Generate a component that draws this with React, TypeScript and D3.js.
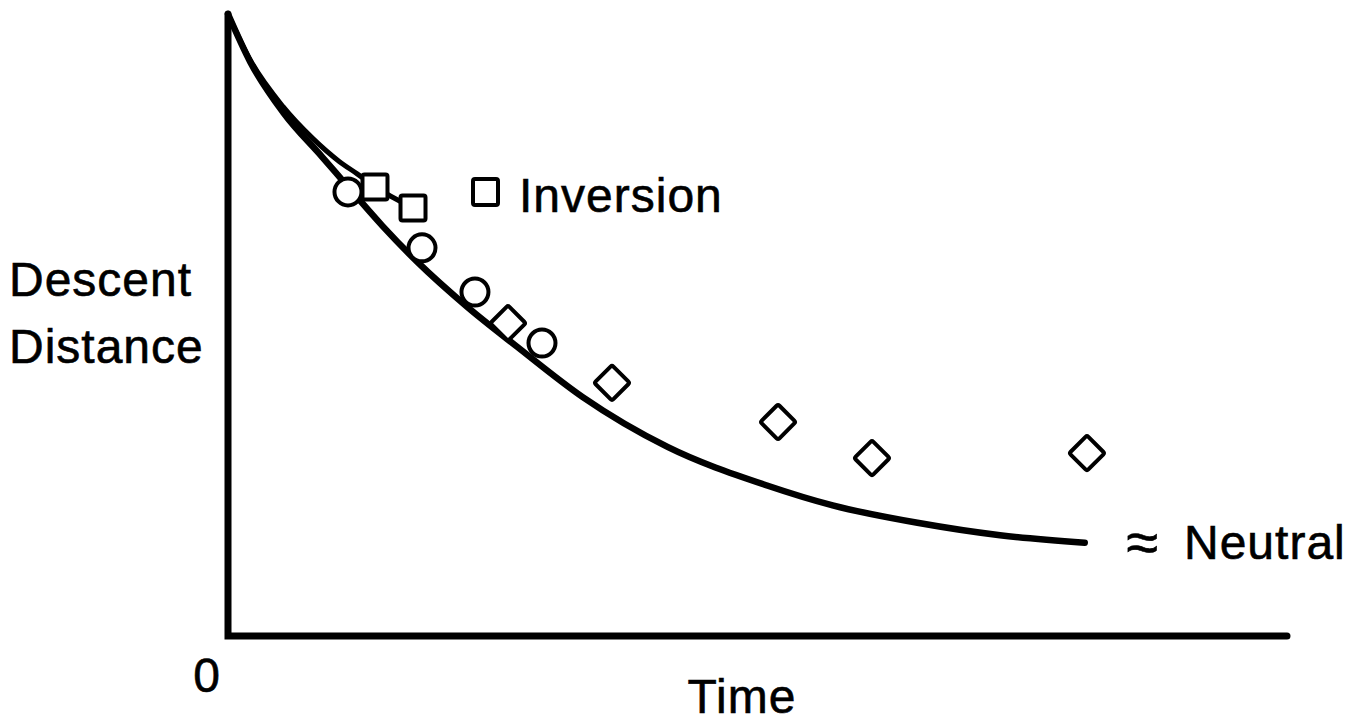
import { useEffect, useRef } from 'react';
import * as d3 from 'd3';

// Neutral curve (time, descent distance)
const neutralTime = [0, 2.1, 5.2, 8.9, 11.7, 14.6, 17.9, 22.6, 27.3, 33.5, 41.5, 50.9, 57.1, 65.1, 72.9, 80.9];
const neutralDist = [100, 92.3, 84.2, 77.0, 71.5, 65.9, 60.1, 52.9, 46.5, 38.4, 30.4, 24.2, 21.0, 18.2, 16.2, 15.0];

// Inversion curve (upper branch ending at the square markers)
const inversionTime = [0, 2.1, 5.2, 8.0, 10.5, 12.2, 13.9, 17.5];
const inversionDist = [100, 92.6, 85.1, 80.0, 76.3, 74.3, 72.2, 68.8];

// Observations
const circleTime = [11.33, 18.32, 23.32, 29.65];
const circleDist = [71.4, 62.4, 55.3, 47.1];
const squareTime = [13.88, 17.47];
const squareDist = [72.2, 68.8];
const diamondTime = [26.44, 36.26, 51.94, 60.81, 81.11];
const diamondDist = [50.3, 40.7, 34.4, 28.6, 29.4];

const WIDTH = 1358;
const HEIGHT = 722;
const FONT = '"Liberation Sans", Arial, Helvetica, sans-serif';

export default function App() {
  const svgRef = useRef<SVGSVGElement>(null);

  useEffect(() => {
    if (!svgRef.current) return;
    const svg = d3.select(svgRef.current);
    svg.selectAll('*').remove();

    const x = d3.scaleLinear().domain([0, 100]).range([228, 1287]);
    const y = d3.scaleLinear().domain([0, 100]).range([636, 14]);

    const stroke = '#000';

    // Axes (no ticks)
    svg
      .append('path')
      .attr('d', `M${x(0)},${y(100)} L${x(0)},${y(0)} L${x(100)},${y(0)}`)
      .attr('fill', 'none')
      .attr('stroke', stroke)
      .attr('stroke-width', 7)
      .attr('stroke-linejoin', 'miter')
      .attr('stroke-linecap', 'round');

    const line = d3
      .line<[number, number]>()
      .x((d) => x(d[0]))
      .y((d) => y(d[1]))
      .curve(d3.curveMonotoneX);

    const inversion = inversionTime.map((t, i) => [t, inversionDist[i]] as [number, number]);
    const neutral = neutralTime.map((t, i) => [t, neutralDist[i]] as [number, number]);

    svg
      .append('path')
      .attr('d', line(inversion))
      .attr('fill', 'none')
      .attr('stroke', stroke)
      .attr('stroke-width', 5)
      .attr('stroke-linecap', 'round');

    svg
      .append('path')
      .attr('d', line(neutral))
      .attr('fill', 'none')
      .attr('stroke', stroke)
      .attr('stroke-width', 6.5)
      .attr('stroke-linecap', 'round');

    // Markers
    const markers = svg.append('g').attr('fill', '#fff').attr('stroke', stroke).attr('stroke-width', 4);

    circleTime.forEach((t, i) => {
      markers.append('circle').attr('cx', x(t)).attr('cy', y(circleDist[i])).attr('r', 13.5);
    });

    const sq = 25;
    squareTime.forEach((t, i) => {
      markers
        .append('rect')
        .attr('x', x(t) - sq / 2)
        .attr('y', y(squareDist[i]) - sq / 2)
        .attr('width', sq)
        .attr('height', sq)
        .attr('rx', 2);
    });

    const dm = 25;
    diamondTime.forEach((t, i) => {
      markers
        .append('rect')
        .attr('x', -dm / 2)
        .attr('y', -dm / 2)
        .attr('width', dm)
        .attr('height', dm)
        .attr('rx', 2)
        .attr('transform', `translate(${x(t)},${y(diamondDist[i])}) rotate(45)`);
    });

    // Legend square + label
    svg
      .append('rect')
      .attr('x', 473)
      .attr('y', 179)
      .attr('width', 25)
      .attr('height', 26)
      .attr('rx', 2)
      .attr('fill', '#fff')
      .attr('stroke', stroke)
      .attr('stroke-width', 4);

    const text = (tx: number, ty: number, s: string, anchor = 'start', size = 48) =>
      svg
        .append('text')
        .attr('x', tx)
        .attr('y', ty)
        .attr('text-anchor', anchor)
        .attr('font-family', FONT)
        .attr('font-size', size)
        .attr('letter-spacing', 1)
        .attr('fill', stroke)
        .attr('stroke', stroke)
        .attr('stroke-width', 0.6)
        .text(s);

    text(519, 212, 'Inversion');
    text(1143, 562, '≈', 'middle', 58);
    text(1184, 559, 'Neutral');
    text(9, 296, 'Descent');
    text(9, 363, 'Distance');
    text(207, 692, '0', 'middle');
    text(742, 713, 'Time', 'middle');
  }, []);

  return (
    <svg
      ref={svgRef}
      width={WIDTH}
      height={HEIGHT}
      style={{ position: 'absolute', left: 0, top: 0, background: '#fff' }}
    />
  );
}
